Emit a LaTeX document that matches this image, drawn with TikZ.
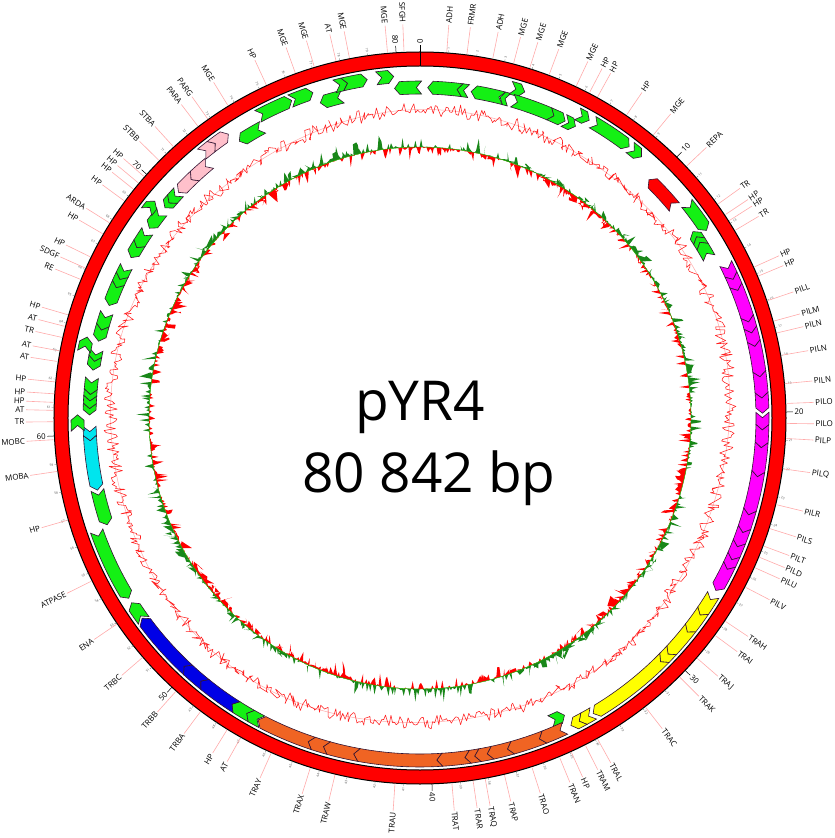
\documentclass[tikz,border=0pt]{standalone}
\usepackage{fontspec}
\setmainfont{Open Sans}
\definecolor{ringred}{RGB}{255,0,0}
\definecolor{gg}{RGB}{20,240,20}
\definecolor{gpink}{RGB}{255,192,203}
\definecolor{gmag}{RGB}{255,0,255}
\definecolor{gyel}{RGB}{255,255,0}
\definecolor{gora}{RGB}{240,100,35}
\definecolor{gblue}{RGB}{0,0,230}
\definecolor{gcyan}{RGB}{0,229,238}
\definecolor{gred}{RGB}{255,0,0}
\definecolor{skewg}{RGB}{25,135,25}
\definecolor{skewr}{RGB}{255,0,0}
\definecolor{gcline}{RGB}{255,30,30}
\definecolor{faint}{RGB}{255,170,170}
\definecolor{gout}{RGB}{50,20,50}
\def\KB{4.45316}
\newcounter{labc}
\newcommand\gene[5]{%
  \pgfmathsetmacro\gA{90-#1*\KB}%
  \pgfmathsetmacro\gB{90-#2*\KB}%
  \ifnum#3=1\relax
    \let\gT\gA \let\gH\gB
  \else
    \let\gT\gB \let\gH\gA
  \fi
  \pgfmathsetmacro\gD{(\gH>\gT)?1:-1}%
  \pgfmathsetmacro\gL{min(0.9,0.8*abs(\gH-\gT))}%
  \pgfmathsetmacro\gTe{\gT-\gD*\gL}%
  \pgfmathsetmacro\gHe{\gH-\gD*\gL}%
  \pgfmathsetmacro\gRo{#4+13}%
  \pgfmathsetmacro\gRm{#4+6.5}%
  \filldraw[genestyle, fill=#5] (\gTe:\gRo) arc[start angle=\gTe, end angle=\gHe, radius=\gRo pt] -- (\gH:\gRm) -- (\gHe:#4) arc[start angle=\gHe, end angle=\gTe, radius=#4pt] -- (\gT:\gRm) -- cycle;
}
\newcommand\glab[2]{%
  \stepcounter{labc}%
  \pgfmathsetmacro\la{90-#1*\KB}%
  \draw[leader] (\la:367) -- (\la:394);
  \ifdim #1pt<40.421pt
    \node[lab, anchor=west, rotate=\la] (g\arabic{labc}) at (\la:395.5) {#2};
  \else
    \pgfmathsetmacro\lb{\la+180}%
    \node[lab, anchor=east, rotate=\lb] (g\arabic{labc}) at (\la:395.5) {#2};
  \fi
}
\begin{document}
\begin{tikzpicture}[x=1pt,y=1pt,
  genestyle/.style={draw=gout, line width=0.6pt, line join=miter},
  leader/.style={draw=faint, line width=0.6pt},
  lab/.style={font=\fontsize{8}{9}\selectfont, inner sep=0pt, text=black},
  declab/.style={font=\fontsize{7.8}{9}\selectfont, inner sep=0pt},
  smlab/.style={font=\fontsize{3.2}{3.5}\selectfont, inner sep=0pt, text=black!70},
  dectick/.style={draw=black, line width=0.5pt},
  smtick/.style={draw=black!60, line width=0.3pt}]
\useasboundingbox (-420,-420) rectangle (415,418);
% GC skew
\pgfmathsetseed{7}
\fill[skewg, even odd rule] plot[domain=0:360, samples=1200] (\x:{271+max(0,16*rand*abs(rand)+1.5*sin(11*\x+20)+1*sin(4*\x))}) -- cycle (0,0) circle[radius=271pt];
\pgfmathsetseed{7}
\fill[skewr, even odd rule] plot[domain=0:360, samples=1200] (\x:{271+min(0,16*rand*abs(rand)+1.5*sin(11*\x+20)+1*sin(4*\x))}) -- cycle (0,0) circle[radius=271pt];
\draw[green!80!black, line width=0.4pt] (0,0) circle[radius=271pt];
% GC content
\draw[faint, line width=0.5pt] plot[domain=0:360, samples=120, smooth] (\x:{308+3*sin(2*\x+30)+2*sin(5*\x)});
\pgfmathsetseed{11}
\draw[gcline, line width=0.55pt, line join=round] plot[domain=0:360, samples=1000] (\x:{308+3*sin(2*\x+30)+2*sin(5*\x)+7*(2*rnd-1)}) -- cycle;
% genes
\def\O{336}\def\I{324}
\gene{0.3}{1.45}{-1}{\I}{gg}
\gene{1.45}{1.7}{-1}{\I}{gg}
\gene{2.0}{3.1}{-1}{\I}{gg}
\gene{3.15}{3.35}{-1}{\I}{gg}
\gene{3.65}{4.0}{1}{\O}{gg}
\gene{3.85}{5.37}{1}{\I}{gg}
\gene{5.37}{5.85}{1}{\I}{gg}
\gene{6.0}{6.3}{1}{\I}{gg}
\gene{6.35}{6.65}{1}{\O}{gg}
\gene{7.0}{8.45}{1}{\O}{gg}
\gene{8.7}{9.05}{1}{\O}{gg}
\gene{9.85}{11.1}{-1}{\I}{gred}
\gene{11.7}{12.75}{1}{\O}{gg}
\gene{12.5}{12.75}{-1}{\I}{gg}
\gene{12.75}{13.0}{-1}{\I}{gg}
\gene{13.0}{13.5}{-1}{\I}{gg}
\foreach \a/\b in {14.4/14.85,14.85/15.3,15.3/16.55,16.55/16.98,16.98/17.5,17.5/18.66,18.66/19.46,19.46/20.03,20.2/20.66,20.66/21.33,21.33/22.43,22.43/23.9,23.9/24.6,24.6/25.17,25.17/25.7,25.7/26.1,26.1/27.0}{\gene{\a}{\b}{1}{\O}{gmag}}
\foreach \a/\b in {27.4/28.1,28.1/28.9,28.9/30.0,30.0/30.4,30.4/33.6,33.8/34.2,34.2/34.55}{\gene{\a}{\b}{1}{\O}{gyel}}
\gene{34.6}{35.0}{-1}{\I}{gg}
\foreach \a/\b in {35.0/35.84,35.84/37.1,37.1/37.88,37.88/38.36,38.36/38.73,38.73/39.79,39.79/42.93,42.93/44.1,44.1/44.7,44.7/46.75}{\gene{\a}{\b}{1}{\O}{gora}}
\gene{46.8}{47.25}{1}{\O}{gg}
\gene{47.25}{47.9}{1}{\O}{gg}
\foreach \a/\b in {47.9/49.36,49.36/50.2,50.2/52.6}{\gene{\a}{\b}{1}{\O}{gblue}}
\gene{52.7}{53.3}{1}{\O}{gg}
\gene{53.5}{56.1}{-1}{\O}{gg}
\gene{56.4}{57.6}{-1}{\I}{gg}
\gene{57.8}{59.75}{-1}{\I}{gcyan}
\gene{59.75}{60.1}{-1}{\I}{gcyan}
\gene{60.35}{60.75}{1}{\O}{gg}
\foreach \a/\b in {60.75/61.0,61.0/61.3,61.3/61.55,61.55/62.0,62.5/62.85,62.85/63.1}{\gene{\a}{\b}{-1}{\I}{gg}}
\gene{63.35}{63.7}{1}{\O}{gg}
\foreach \a/\b in {63.65/64.1,64.1/64.6,65.1/65.85,65.85/66.2,66.2/66.55,67.15/67.6,67.6/68.15,68.5/69.1}{\gene{\a}{\b}{-1}{\I}{gg}}
\gene{69.15}{69.45}{1}{\O}{gg}
\gene{69.5}{69.75}{-1}{\I}{gg}
\gene{69.75}{70.1}{-1}{\I}{gg}
\gene{70.3}{71.0}{-1}{\I}{gpink}
\gene{71.0}{71.75}{-1}{\I}{gpink}
\gene{72.15}{72.6}{1}{\O}{gpink}
\gene{72.6}{73.2}{1}{\O}{gpink}
\gene{73.4}{74.25}{-1}{\I}{gg}
\gene{74.7}{75.9}{1}{\O}{gg}
\gene{76.05}{76.75}{1}{\O}{gg}
\gene{76.9}{77.6}{-1}{\I}{gg}
\gene{77.8}{78.1}{1}{\O}{gg}
\gene{78.1}{78.85}{1}{\O}{gg}
\gene{79.4}{79.85}{1}{\O}{gg}
\gene{79.85}{80.7}{-1}{\I}{gg}
% ring
\filldraw[fill=ringred, draw=black, line width=1pt, even odd rule] (0,0) circle[radius=366pt] (0,0) circle[radius=352pt];
\draw[dectick] (90:352) -- (90:373);
\node[declab, anchor=west, rotate=90] (t0) at (90:374.5) {0};
% ticks
\foreach \i in {1,...,80}{%
  \pgfmathsetmacro\ta{90-\i*\KB}%
  \pgfmathtruncatemacro\tm{mod(\i,10)}%
  \pgfmathsetmacro\tb{\ta+180}%
  \ifnum\tm=0
    \draw[dectick] (\ta:366) -- (\ta:373);
    \ifnum\i<41 \node[declab, anchor=west, rotate=\ta] (t\i) at (\ta:374.5) {\i};
    \else \node[declab, anchor=east, rotate=\tb] (t\i) at (\ta:374.5) {\i};\fi
  \else
    \draw[smtick] (\ta:366) -- (\ta:368.5);
    \ifnum\i<41 \node[smlab, anchor=west, rotate=\ta] (t\i) at (\ta:369.5) {\i};
    \else \node[smlab, anchor=east, rotate=\tb] (t\i) at (\ta:369.5) {\i};\fi
  \fi
}
% labels
\glab{0.94}{ADH}\glab{1.65}{FRMR}\glab{2.57}{ADH}\glab{3.32}{MGE}\glab{3.91}{MGE}
\glab{4.63}{MGE}\glab{5.66}{MGE}\glab{6.18}{HP}\glab{6.5}{HP}\glab{7.7}{HP}
\glab{8.87}{MGE}\glab{10.47}{REPA}\glab{12.2}{TR}\glab{12.65}{HP}\glab{12.9}{HP}
\glab{13.3}{TR}\glab{14.75}{HP}\glab{15.1}{HP}\glab{16.02}{PILL}\glab{16.77}{PILM}
\glab{17.2}{PILN}\glab{18.0}{PILN}\glab{19.0}{PILN}\glab{19.7}{PILO}\glab{20.4}{PILO}
\glab{20.93}{PILP}\glab{22.0}{PILQ}\glab{23.28}{PILR}\glab{24.15}{PILS}\glab{24.8}{PILT}
\glab{25.22}{PILD}\glab{25.62}{PILU}\glab{26.38}{PILV}\glab{27.77}{TRAH}\glab{28.38}{TRAI}
\glab{29.4}{TRAJ}\glab{30.3}{TRAK}\glab{31.9}{TRAC}\glab{33.92}{TRAL}\glab{34.4}{TRAM}
\glab{34.95}{HP}\glab{35.4}{TRAN}\glab{36.43}{TRAO}\glab{37.43}{TRAP}\glab{38.12}{TRAQ}
\glab{38.55}{TRAR}\glab{39.3}{TRAT}\glab{41.3}{TRAU}\glab{43.43}{TRAW}\glab{44.33}{TRAX}
\glab{45.8}{TRAY}\glab{47.0}{AT}\glab{47.55}{HP}\glab{48.68}{TRBA}\glab{49.8}{TRBB}
\glab{51.47}{TRBC}\glab{52.95}{ENA}\glab{54.7}{ATPASE}\glab{57.0}{HP}\glab{58.75}{MOBA}
\glab{59.87}{MOBC}\glab{60.5}{TR}\glab{60.9}{AT}\glab{61.18}{HP}\glab{61.48}{HP}
\glab{61.9}{HP}\glab{62.62}{AT}\glab{63.0}{AT}\glab{63.48}{TR}\glab{63.88}{AT}
\glab{64.3}{HP}\glab{65.62}{RE}\glab{66.05}{SDGF}\glab{66.48}{HP}\glab{67.4}{HP}
\glab{67.85}{ARDA}\glab{68.78}{HP}\glab{69.3}{HP}\glab{69.58}{HP}\glab{69.88}{HP}
\glab{70.65}{STBB}\glab{71.35}{STBA}\glab{72.47}{PARA}\glab{72.9}{PARG}\glab{73.75}{MGE}
\glab{75.28}{HP}\glab{76.38}{MGE}\glab{77.08}{MGE}\glab{77.87}{AT}\glab{78.35}{MGE}
\glab{79.7}{MGE}\glab{80.28}{SFGH}
% centre text
\node[anchor=base, inner sep=0pt, font=\fontsize{55}{66}\selectfont] (title) at (0,-2) {pYR4};
\node[anchor=base, inner sep=0pt, font=\fontsize{55}{66}\selectfont] (size) at (9,-74) {80 842 bp};
\end{tikzpicture}
\end{document}
